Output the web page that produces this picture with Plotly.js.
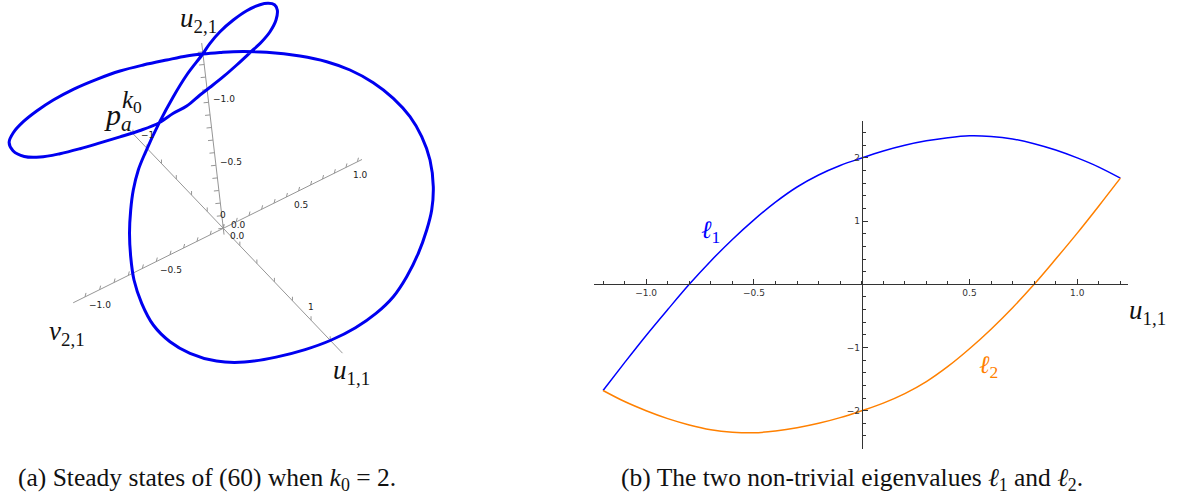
<!DOCTYPE html>
<html>
<head>
<meta charset="utf-8">
<script src="https://cdn.plot.ly/plotly-3.0.1.min.js"></script>
<style>
  html, body { margin: 0; padding: 0; background: #fff; }
  #chart { width: 1184px; height: 502px; }
</style>
</head>
<body>
<div id="chart"></div>
<script>
// (a) steady-state curve, projected: px from the projected origin, y pointing down
const curveX = [45.0, 51.2, 54.0, 52.7, 46.7, 38.4, 26.7, 13.4, 0.0, -13.3, -23.3, -36.6, -50.0,
  -64.0, -83.3, -103.3, -123.3, -143.3, -163.3, -183.3, -199.0, -210.3, -214.2, -210.0, -200.0,
  -186.6, -170.0, -150.0, -126.6, -103.3, -80.0, -56.6, -36.6, -20.6, -3.3, 10.0, 43.4, 76.7,
  103.4, 126.7, 150.0, 170.0, 186.7, 198.4, 206.7, 210.0, 208.4, 203.4, 195.0, 183.4, 170.0,
  152.7, 132.2, 108.1, 81.8, 52.8, 21.2, -6.8, -33.3, -53.3, -70.0, -81.6, -89.3, -92.6, -93.8,
  -92.6, -90.0, -85.0, -78.3, -64.0, -50.0, -36.6, -20.6, -13.3, -3.3, 10.0, 23.4, 36.7, 45.0];
const curveY = [-225.0, -223.5, -218.3, -208.3, -196.6, -186.6, -175.6, -163.3, -151.6, -141.0,
  -133.3, -122.3, -115.0, -105.6, -97.8, -91.4, -85.4, -79.6, -74.6, -71.2, -71.8, -77.6, -86.0,
  -95.6, -106.6, -117.3, -128.3, -139.0, -149.0, -157.3, -163.3, -168.3, -172.3, -174.3, -175.8,
  -176.6, -176.0, -172.3, -166.6, -158.3, -145.6, -130.0, -111.6, -91.6, -68.3, -41.6, -18.3,
  1.7, 25.0, 48.4, 68.4, 85.1, 99.4, 111.7, 121.3, 128.8, 133.8, 132.8, 125.0, 113.4, 96.7, 75.0,
  51.7, 28.4, 5.0, -18.3, -38.3, -58.3, -75.0, -105.6, -131.6, -153.3, -174.3, -185.0, -196.6,
  -208.3, -217.6, -223.6, -225.0];

// (b) the two non-trivial eigenvalues against u11
const u11Vals = [-1.2, -1.1, -1.0, -0.9, -0.8, -0.7, -0.6, -0.5, -0.4, -0.3, -0.2, -0.1, 0.0,
  0.1, 0.2, 0.3, 0.4, 0.5, 0.6, 0.7, 0.8, 0.9, 1.0, 1.1, 1.2];
const ell1 = [-1.68, -1.24, -0.81, -0.40, 0.0, 0.37, 0.71, 1.02, 1.30, 1.54, 1.73, 1.88, 2.0,
  2.11, 2.20, 2.27, 2.32, 2.35, 2.34, 2.30, 2.225, 2.125, 2.00, 1.855, 1.68];
const ell2 = [-1.68, -1.855, -2.00, -2.125, -2.225, -2.30, -2.34, -2.35, -2.32, -2.27, -2.20,
  -2.11, -2.0, -1.88, -1.73, -1.54, -1.30, -1.02, -0.71, -0.37, 0.0, 0.40, 0.81, 1.24, 1.68];

const bTickX = [-1, -0.5, 0.5, 1];
const bTickXText = ['\u22121.0', '\u22120.5', '0.5', '1.0'];
const bTickY = [-2, -1, 1, 2];
const bTickYText = ['\u22122', '\u22121', '1', '2'];

// (a) tick labels of the three drawn axes
const u11Labels = [-1, 0, 1];
const u11LabelText = ['\u22121', '0', '1'];
const v21Labels = [-1, -0.5, 0, 0.5, 1];
const v21LabelText = ['\u22121.0', '\u22120.5', '0.0', '0.5', '1.0'];
const u21Labels = [-1, -0.5, 0];
const u21LabelText = ['\u22121.0', '\u22120.5', '0.0'];

const W = 1184, H = 502;
const px = x => x / W;
const py = y => 1 - y / H;

function steps(a, b, d) {
  const out = [];
  for (let k = Math.round(a / d); k * d <= b + 1e-9; k++) out.push(+(k * d).toFixed(3));
  return out;
}

// screen direction of each axis (px per unit) with a small perspective term
const axes3d = [
  { a: [81.6, 85.5], c: -0.07, range: [-1.27, 1.325], ticks: steps(-1.2, 1.2, 0.2), tick: [0, -4],
    labels: u11Labels, text: u11LabelText, off: [0, -13] },
  { a: [130, -64.5], c: 0.06, range: [-1.08, 1.14], ticks: steps(-1.0, 1.1, 0.1), tick: [1, -4],
    labels: v21Labels, text: v21LabelText, off: [14.5, 8] },
  { a: [14.7, 126], c: 0, range: [-1.47, 0.05], ticks: steps(-1.4, 0, 0.1), tick: [-5, 0.5],
    labels: u21Labels, text: u21LabelText, off: [15.5, -3] }
];

function proj(ax, t) {
  const s = t / (1 + ax.c * t);
  return [ax.a[0] * s, ax.a[1] * s];
}

const axisGrey = 'rgb(150,150,150)';
const traces = [];
const annotations = [];

axes3d.forEach(ax => {
  const p0 = proj(ax, ax.range[0]), p1 = proj(ax, ax.range[1]);
  const tx = [], ty = [];
  ax.ticks.forEach(t => {
    const p = proj(ax, t);
    tx.push(p[0], p[0] + ax.tick[0], null);
    ty.push(p[1], p[1] + ax.tick[1], null);
  });
  traces.push({
    x: [p0[0], p1[0], null].concat(tx), y: [p0[1], p1[1], null].concat(ty),
    xaxis: 'x', yaxis: 'y', mode: 'lines', hoverinfo: 'skip',
    line: { color: axisGrey, width: 1 }
  });
  ax.labels.forEach((t, i) => {
    const p = proj(ax, t);
    annotations.push({
      xref: 'x', yref: 'y', x: p[0] + ax.off[0], y: p[1] + ax.off[1],
      text: ax.text[i], showarrow: false, xanchor: 'center', yanchor: 'middle',
      font: { family: 'DejaVu Sans', size: 9, color: '#222' }
    });
  });
});

traces.push({
  x: curveX, y: curveY, xaxis: 'x', yaxis: 'y', mode: 'lines',
  line: { color: 'rgb(0,0,240)', width: 3, shape: 'spline', smoothing: 1 }
});

traces.push({
  x: u11Vals, y: ell1, xaxis: 'x2', yaxis: 'y2', mode: 'lines',
  line: { color: 'rgb(0,0,255)', width: 1.5, shape: 'spline' }
});
traces.push({
  x: u11Vals, y: ell2, xaxis: 'x2', yaxis: 'y2', mode: 'lines',
  line: { color: 'rgb(255,128,0)', width: 1.5, shape: 'spline' }
});

// panel (b) frame: axes cross at the origin
const bx = [594, 1127.7], by = [120.7, 449.3];
const bxRange = [-1.242, 1.234], byRange = [-2.611, 2.589];
const bxDom = [px(bx[0]), px(bx[1])];
const byDom = [py(by[1]), py(by[0])];
const xAxisPos = byDom[0] + (0 - byRange[0]) / (byRange[1] - byRange[0]) * (byDom[1] - byDom[0]);
const yAxisPos = bxDom[0] + (0 - bxRange[0]) / (bxRange[1] - bxRange[0]) * (bxDom[1] - bxDom[0]);

const serif = "'Liberation Serif', 'DejaVu Serif', serif";
const math = (text, x, y, size, color, anchor) => ({
  xref: 'paper', yref: 'paper', x: px(x), y: py(y), text: text, showarrow: false,
  xanchor: anchor || 'center', yanchor: 'middle',
  font: { family: serif, size: size, color: color || '#111' }
});

annotations.push(
  math('<i>u</i><sub>2,1</sub>', 198, 20, 27),
  math('<i>p</i><sub><i>a</i></sub>', 102, 117, 30, '#111', 'left'),
  math('<i>k</i><sub>0</sub>', 120, 101, 25, '#111', 'left'),
  math('<i>v</i><sub>2,1</sub>', 67, 333, 27),
  math('<i>u</i><sub>1,1</sub>', 351, 372, 27),
  math('<i>u</i><sub>1,1</sub>', 1147, 312, 27),
  math('<i>\u2113</i><sub>1</sub>', 710, 231, 25, 'rgb(0,0,255)'),
  math('<i>\u2113</i><sub>2</sub>', 988, 366, 25, 'rgb(255,128,0)'),
  math('(a) Steady states of (60) when <i>k</i><sub>0</sub> = 2.', 16, 479, 25.5, '#111', 'left'),
  math('(b) The two non-trivial eigenvalues <i>\u2113</i><sub>1</sub> and <i>\u2113</i><sub>2</sub>.', 619, 479, 25.5, '#111', 'left')
);

const tickFont = { family: 'DejaVu Sans', size: 9, color: '#333' };

const layout = {
  width: W, height: H,
  margin: { l: 0, r: 0, t: 0, b: 0 },
  paper_bgcolor: '#fff', plot_bgcolor: 'rgba(0,0,0,0)',
  showlegend: false,
  xaxis: { domain: [0, px(440)], range: [-223.3, 216.7], visible: false, fixedrange: true },
  yaxis: { domain: [py(400), 1], range: [171.7, -228.3], visible: false, fixedrange: true },
  xaxis2: {
    domain: bxDom, range: bxRange, anchor: 'free', position: xAxisPos,
    showline: true, linecolor: '#333', linewidth: 1, showgrid: false, zeroline: false,
    ticks: 'inside', ticklen: 5, tickcolor: '#333', tickwidth: 1,
    tickmode: 'array', tickvals: bTickX, ticktext: bTickXText, tickfont: tickFont,
    minor: { tick0: 0, dtick: 0.1, ticks: 'inside', ticklen: 3, tickcolor: '#333', showgrid: false }
  },
  yaxis2: {
    domain: byDom, range: byRange, anchor: 'free', position: yAxisPos,
    showline: true, linecolor: '#333', linewidth: 1, showgrid: false, zeroline: false,
    ticks: 'inside', ticklen: 5, tickcolor: '#333', tickwidth: 1,
    tickmode: 'array', tickvals: bTickY, ticktext: bTickYText, tickfont: tickFont,
    minor: { tick0: 0, dtick: 0.2, ticks: 'inside', ticklen: 3, tickcolor: '#333', showgrid: false }
  },
  annotations: annotations
};

Plotly.newPlot('chart', traces, layout, { staticPlot: true, displayModeBar: false });
</script>
</body>
</html>
